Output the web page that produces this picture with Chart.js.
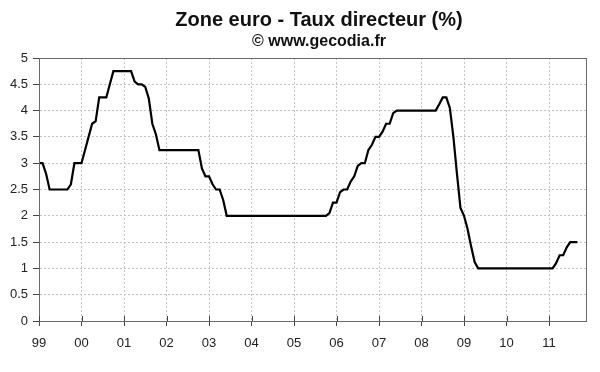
<!DOCTYPE html>
<html>
<head>
<meta charset="utf-8">
<script src="https://cdn.jsdelivr.net/npm/chart.js@4"></script>
<style>
  html, body { margin: 0; padding: 0; background: #fff; }
  #wrap { width: 600px; height: 372px; }
</style>
</head>
<body>
<div id="wrap"><canvas id="rateChart"></canvas></div>
<script>
// monthly points from Jan 1999
const startYear = 1999;
const rates = [
  3, 3, 2.8, 2.5, 2.5, 2.5, 2.5, 2.5, 2.5, 2.6, 3, 3,                   // 99
  3, 3.25, 3.5, 3.75, 3.8, 4.25, 4.25, 4.25, 4.5, 4.75, 4.75, 4.75,     // 00
  4.75, 4.75, 4.75, 4.55, 4.5, 4.5, 4.45, 4.23, 3.75, 3.55, 3.25, 3.25, // 01
  3.25, 3.25, 3.25, 3.25, 3.25, 3.25, 3.25, 3.25, 3.25, 3.25, 2.9, 2.75, // 02
  2.75, 2.6, 2.5, 2.5, 2.3, 2, 2, 2, 2, 2, 2, 2,                         // 03
  2, 2, 2, 2, 2, 2, 2, 2, 2, 2, 2, 2,                                    // 04
  2, 2, 2, 2, 2, 2, 2, 2, 2, 2, 2.05, 2.25,                              // 05
  2.25, 2.45, 2.5, 2.5, 2.65, 2.75, 2.95, 3, 3, 3.25, 3.35, 3.5,         // 06
  3.5, 3.6, 3.75, 3.75, 3.95, 4, 4, 4, 4, 4, 4, 4,                       // 07
  4, 4, 4, 4, 4, 4.12, 4.25, 4.25, 4.05, 3.5, 2.8, 2.15,                 // 08
  2, 1.75, 1.42, 1.12, 1, 1, 1, 1, 1, 1, 1, 1,                           // 09
  1, 1, 1, 1, 1, 1, 1, 1, 1, 1, 1, 1,                                    // 10
  1, 1, 1.1, 1.25, 1.25, 1.4, 1.5, 1.5, 1.5                              // 11
];
const yearLabels = ['99', '00', '01', '02', '03', '04', '05', '06', '07', '08', '09', '10', '11'];
const xMax = 2011.87;

const points = rates.map((v, i) => ({ x: startYear + i / 12, y: v }));

Chart.defaults.font.family = '"Liberation Sans", Arial, sans-serif';
Chart.defaults.color = '#222';

// titles + plot frame + tick marks crossing the x axis
const decorations = {
  id: 'decorations',
  afterDraw(chart) {
    const { ctx, chartArea: a, scales } = chart;
    ctx.save();
    ctx.strokeStyle = '#6a6a6a';
    ctx.lineWidth = 1;
    ctx.strokeRect(a.left + 0.5, a.top + 0.5, a.right - a.left, a.bottom - a.top);

    ctx.strokeStyle = '#444';
    scales.x.ticks.forEach(t => {
      const px = Math.round(scales.x.getPixelForValue(t.value)) + 0.5;
      ctx.beginPath();
      ctx.moveTo(px, a.bottom - 5);
      ctx.lineTo(px, a.bottom);
      ctx.stroke();
    });

    ctx.fillStyle = '#111';
    ctx.textAlign = 'center';
    ctx.textBaseline = 'middle';
    ctx.font = 'bold 20px "Liberation Sans", Arial, sans-serif';
    ctx.fillText('Zone euro - Taux directeur (%)', 319, 20);
    ctx.font = 'bold 16px "Liberation Sans", Arial, sans-serif';
    ctx.fillText('© www.gecodia.fr', 319, 42);
    ctx.restore();
  }
};

new Chart(document.getElementById('rateChart'), {
  type: 'line',
  data: {
    datasets: [{
      data: points,
      borderColor: '#000',
      borderWidth: 2.2,
      pointRadius: 0,
      tension: 0,
      fill: false
    }]
  },
  options: {
    responsive: true,
    maintainAspectRatio: false,
    animation: false,
    layout: { padding: { top: 58, right: 14, bottom: 0, left: 0 } },
    plugins: { legend: { display: false }, tooltip: { enabled: false } },
    scales: {
      x: {
        type: 'linear',
        min: startYear,
        max: xMax,
        afterFit: s => { s.height = 51; },
        ticks: {
          stepSize: 1,
          includeBounds: false,
          padding: 10,
          font: { size: 13 },
          color: '#222',
          maxRotation: 0,
          callback: v => yearLabels[Math.round(v - startYear)] ?? ''
        },
        grid: {
          color: '#c4c4c4',
          tickColor: '#444',
          tickLength: 5,
          tickBorderDash: []
        },
        border: { color: '#555', dash: [2, 2] }
      },
      y: {
        min: 0,
        max: 5,
        afterFit: s => { s.width = 39; },
        ticks: {
          stepSize: 0.5,
          padding: 5,
          font: { size: 13 },
          color: '#222',
          callback: v => String(v)
        },
        grid: {
          color: '#c4c4c4',
          tickColor: '#444',
          tickLength: 6,
          tickBorderDash: []
        },
        border: { color: '#555', dash: [2, 2] }
      }
    }
  },
  plugins: [decorations]
});
</script>
</body>
</html>
